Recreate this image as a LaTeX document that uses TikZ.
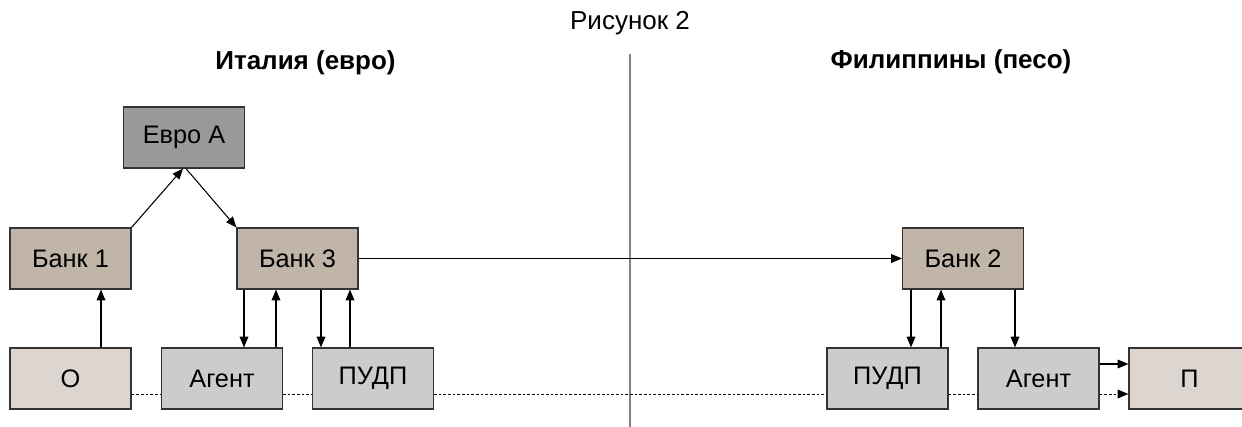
\documentclass[tikz,border=0pt]{standalone}
\usepackage{fontspec}
\setmainfont{Liberation Sans}
\usetikzlibrary{calc,arrows.meta}
\definecolor{euroA}{HTML}{999999}
\definecolor{bank}{HTML}{C1B5A9}
\definecolor{party}{HTML}{DDD6D0}
\definecolor{agent}{HTML}{CCCCCC}
\definecolor{divider}{HTML}{8C7F72}
\definecolor{edge}{HTML}{333333}
\begin{document}
\begin{tikzpicture}[x=0.75pt,y=-0.75pt,
  box/.style={draw=edge,line width=0.9pt,rectangle,inner sep=0pt,
    minimum width=90.75pt,minimum height=45.75pt,
    font=\fontsize{19}{22}\selectfont},
  arr/.style={line width=0.8pt,-{Triangle[length=8pt,width=6.5pt]}},
  dotline/.style={line width=0.6pt,dash pattern=on 2pt off 1.5pt},
  hdr/.style={font=\fontsize{19.5}{22}\selectfont\bfseries},
  ttl/.style={font=\fontsize{19.5}{22}\selectfont}]
\useasboundingbox (0,0) rectangle (1242,427);
% titles
\node[ttl] (title) at (630,23) {Рисунок 2};
\node[hdr] (it) at (305.5,63) {Италия (евро)};
\node[hdr] (ph) at (951,62) {Филиппины (песо)};
% divider
\coordinate (dtop) at (630,54);
\coordinate (dbot) at (630,430);
\draw[divider,line width=2pt] (dtop) -- (dbot);
% boxes
\node[box,fill=euroA] (EvroA) at (184,137.5) {Евро А};
\node[box,fill=bank] (B1) at (70.5,258.5) {Банк 1};
\node[box,fill=bank] (B3) at (297.5,258.5) {Банк 3};
\node[box,fill=bank] (B2) at (963,258.5) {Банк 2};
\node[box,fill=party] (O) at (70.5,378.5) {О};
\node[box,fill=agent] (Ag1) at (222,378.5) {Агент};
\node[box,fill=agent] (P1) at (373,378.5) {ПУДП};
\node[box,fill=agent] (P2) at (887.5,378.5) {ПУДП};
\node[box,fill=agent] (Ag2) at (1038.5,378.5) {Агент};
\node[box,fill=party] (Pp) at (1189.5,378.5) {П};
% dotted baseline
\draw[dotline] ($(O.east)+(0,15.5)$) -- ($(Ag1.west)+(0,15.5)$);
\draw[dotline] ($(Ag1.east)+(0,15.5)$) -- ($(P1.west)+(0,15.5)$);
\draw[dotline] ($(P1.east)+(0,15.5)$) -- ($(P2.west)+(0,15.5)$);
\draw[dotline] ($(P2.east)+(0,15.5)$) -- ($(Ag2.west)+(0,15.5)$);
\draw[dotline,-{Triangle[length=8pt,width=6.5pt]}] ($(Ag2.east)+(0,15.5)$) -- ($(Pp.west)+(0,15.5)$);
% arrows
\draw[arr] ($(O.north)+(30.5,0)$) -- ($(B1.south)+(30.5,0)$);
\draw[arr] (B1.north east) -- ($(EvroA.south)+(-1,0)$);
\draw[arr] ($(EvroA.south)+(2,0)$) -- (B3.north west);
\draw[arr] ($(B3.south)+(-53.5,0)$) -- ($(Ag1.north)+(22,0)$);
\draw[arr] ($(Ag1.north)+(54,0)$) -- ($(B3.south)+(-21.5,0)$);
\draw[arr] ($(B3.south)+(23.5,0)$) -- ($(P1.north)+(-52,0)$);
\draw[arr] ($(P1.north)+(-23,0)$) -- ($(B3.south)+(52.5,0)$);
\draw[arr] (B3.east) -- (B2.west);
\draw[arr] ($(B2.south)+(-52,0)$) -- ($(P2.north)+(23.5,0)$);
\draw[arr] ($(P2.north)+(53.5,0)$) -- ($(B2.south)+(-22,0)$);
\draw[arr] ($(B2.south)+(52,0)$) -- ($(Ag2.north)+(-23.5,0)$);
\draw[arr] ($(Ag2.east)+(0,-14.5)$) -- ($(Pp.west)+(0,-14.5)$);
\end{tikzpicture}
\end{document}
